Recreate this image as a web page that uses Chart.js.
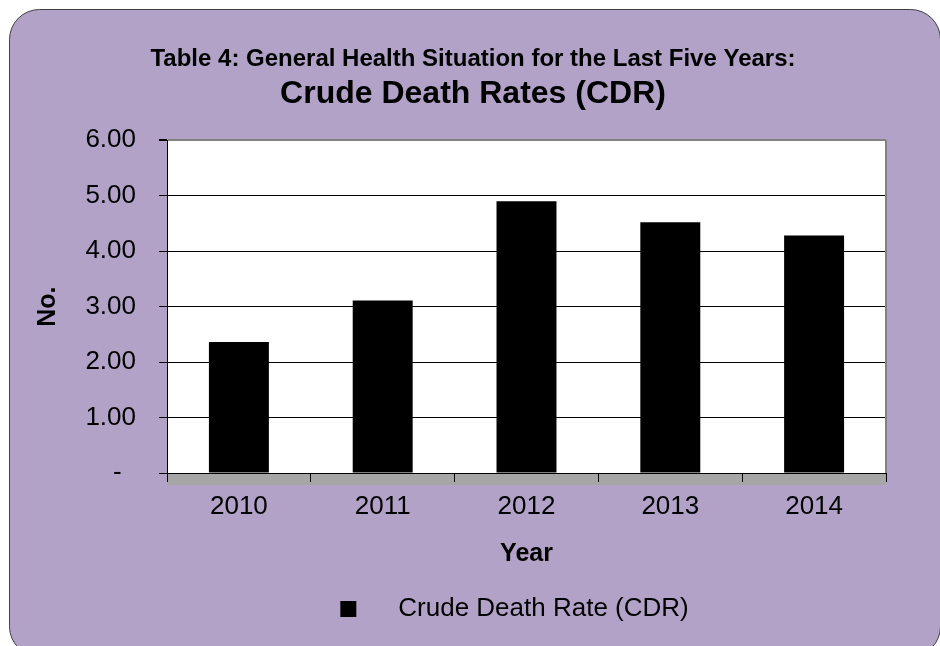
<!DOCTYPE html>
<html>
<head>
<meta charset="utf-8">
<script src="https://cdn.jsdelivr.net/npm/chart.js@4"></script>
<style>
  body { margin: 0; background: #fff; }
  canvas { display: block; }
</style>
</head>
<body>
<canvas id="cdrChart" width="940" height="646"></canvas>
<script>
const years = ["2010", "2011", "2012", "2013", "2014"];
const cdrValues = [2.36, 3.11, 4.90, 4.52, 4.28];
const yTicks = [0, 1, 2, 3, 4, 5, 6];
const seriesLabel = "Crude Death Rate (CDR)";

Chart.defaults.font.family = "'Liberation Sans', Arial, sans-serif";
Chart.defaults.color = "#000";

// legend marker: small black square, with blank room around it so the text sits further right
const marker = document.createElement("canvas");
marker.width = 128;
marker.height = 16;
const mctx = marker.getContext("2d");
mctx.fillStyle = "#000";
mctx.fillRect(83, 0, 16, 16);

// purple rounded panel, white plot area and grey floor under the x axis
const panel = {
  id: "panel",
  beforeDraw(chart) {
    const ctx = chart.ctx;
    const a = chart.chartArea;
    ctx.save();
    ctx.fillStyle = "#fff";
    ctx.fillRect(0, 0, chart.width, chart.height);
    ctx.beginPath();
    ctx.roundRect(9.5, 9.5, 931, 647, 30);
    ctx.fillStyle = "#b3a2c7";
    ctx.fill();
    ctx.strokeStyle = "#404040";
    ctx.lineWidth = 1;
    ctx.stroke();
    ctx.fillStyle = "#fff";
    ctx.fillRect(a.left, a.top, a.right - a.left, a.bottom - a.top);
    ctx.fillStyle = "#a6a6a6";
    ctx.fillRect(a.left, a.bottom, a.right - a.left, 12);
    ctx.restore();
  },
  afterDraw(chart) {
    const ctx = chart.ctx;
    const a = chart.chartArea;
    ctx.save();
    ctx.strokeStyle = "#808080";
    ctx.lineWidth = 2;
    ctx.beginPath();
    ctx.moveTo(a.right, a.top);
    ctx.lineTo(a.right, a.bottom);
    ctx.stroke();
    ctx.restore();
  }
};

new Chart(document.getElementById("cdrChart"), {
  type: "bar",
  data: {
    labels: years,
    datasets: [{
      label: seriesLabel,
      data: cdrValues,
      backgroundColor: "#000",
      borderWidth: 0,
      barPercentage: 0.417,
      categoryPercentage: 1
    }]
  },
  options: {
    responsive: false,
    animation: false,
    devicePixelRatio: 1,
    layout: { padding: { top: 0, left: 60, right: 54, bottom: 14 } },
    plugins: {
      title: {
        display: true,
        text: "Table 4: General Health Situation for the Last Five Years:",
        font: { size: 24, weight: "bold" },
        padding: { top: 45, bottom: 0 }
      },
      subtitle: {
        display: true,
        text: "Crude Death Rates (CDR)",
        color: "#000",
        font: { size: 32, weight: "bold" },
        padding: { top: 1, bottom: 27 }
      },
      legend: {
        position: "bottom",
        labels: {
          usePointStyle: true,
          pointStyle: marker,
          pointStyleWidth: 128,
          font: { size: 26 },
          padding: 23
        }
      },
      tooltip: { enabled: false }
    },
    scales: {
      x: {
        afterFit(scale) { scale.height = 100; },
        grid: {
          drawOnChartArea: false,
          tickLength: 9,
          color: "#000",
          offset: true
        },
        border: { color: "#000" },
        ticks: { font: { size: 26 }, padding: 9 },
        title: {
          display: true,
          text: "Year",
          font: { size: 25, weight: "bold" }
        }
      },
      y: {
        min: 0,
        max: 6,
        afterFit(scale) { scale.width = 107; },
        afterBuildTicks(scale) {
          scale.ticks = yTicks.map(v => ({ value: v }));
        },
        grid: {
          color: ctx => (ctx.tick && ctx.tick.value === 6 ? "#808080" : "#000"),
          lineWidth: ctx => (ctx.tick && ctx.tick.value === 6 ? 2 : 1),
          tickColor: "#000",
          tickLength: 8
        },
        border: { color: "#000" },
        ticks: {
          font: { size: 26 },
          padding: 23,
          callback: v => (v === 0 ? "-  " : v.toFixed(2))
        },
        title: {
          display: true,
          text: "No.",
          font: { size: 25, weight: "bold" },
          padding: { top: -27, bottom: 0 }
        }
      }
    }
  },
  plugins: [panel]
});
</script>
</body>
</html>
